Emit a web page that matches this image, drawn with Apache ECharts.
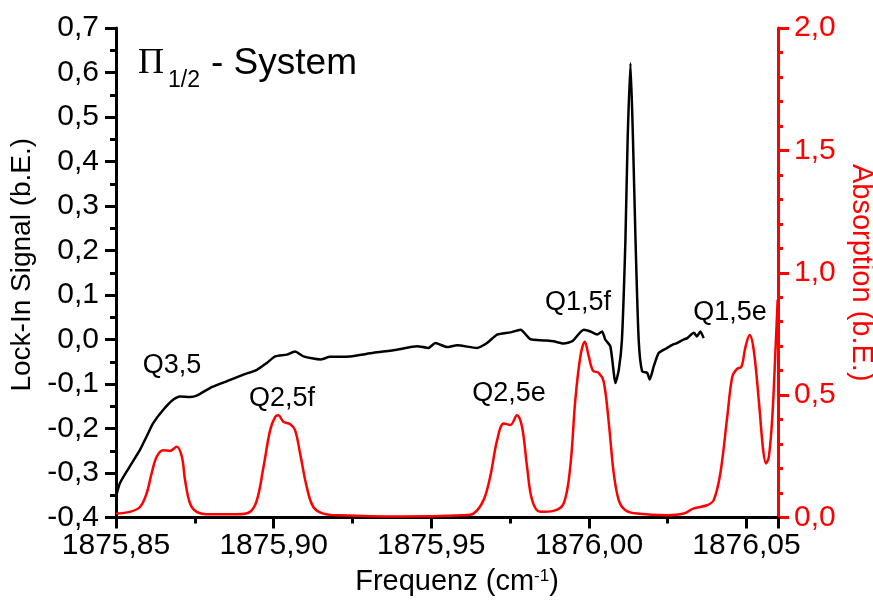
<!DOCTYPE html>
<html>
<head>
<meta charset="utf-8">
<script src="https://cdn.jsdelivr.net/npm/echarts@6/dist/echarts.min.js"></script>
<style>
html,body{margin:0;padding:0;background:#fff;}
#chart{width:873px;height:605px;}
</style>
</head>
<body>
<div id="chart"></div>
<script>
// ---- data ----
var lockInX = [1875.8500,1875.8513,1875.8544,1875.8576,1875.8597,1875.8618,1875.8650,1875.8682,1875.8703,1875.8735,
  1875.8756,1875.8798,1875.8851,1875.8904,1875.8947,1875.8978,1875.9005,1875.9042,1875.9068,1875.9095,
  1875.9148,1875.9179,1875.9211,1875.9243,1875.9317,1875.9391,1875.9455,1875.9491,1875.9513,1875.9550,
  1875.9582,1875.9645,1875.9677,1875.9709,1875.9751,1875.9783,1875.9814,1875.9857,1875.9888,1875.9920,
  1875.9947,1875.9984,1876.0005,1876.0026,1876.0042,1876.0052,1876.0068,1876.0079,1876.0084,1876.0095,
  1876.0105,1876.0116,1876.0123,1876.0132,1876.0140,1876.0148,1876.0158,1876.0169,1876.0185,1876.0193,
  1876.0206,1876.0222,1876.0248,1876.0265,1876.0280,1876.0301,1876.0312,1876.0333,1876.0343,1876.0354,1876.0364];
var lockInY = [-0.353,-0.322,-0.285,-0.248,-0.218,-0.188,-0.158,-0.135,-0.128,-0.129,
  -0.126,-0.109,-0.094,-0.079,-0.068,-0.053,-0.038,-0.034,-0.027,-0.038,
  -0.045,-0.039,-0.039,-0.038,-0.030,-0.023,-0.015,-0.019,-0.008,-0.017,
  -0.013,-0.019,-0.008,0.011,0.016,0.022,0.001,-0.002,-0.004,-0.009,
  -0.004,0.022,0.018,0.011,0.018,0.000,-0.015,-0.075,-0.098,-0.068,
  0.000,0.224,0.449,0.621,0.449,0.224,0.000,-0.072,-0.075,-0.090,
  -0.060,-0.030,-0.019,-0.012,-0.008,0.000,0.003,0.015,0.007,0.018,0.003];

var absX = [1875.8500,1875.8544,1875.8576,1875.8597,1875.8613,1875.8629,1875.8650,1875.8671,1875.8693,1875.8709,
  1875.8719,1875.8735,1875.8756,1875.8798,1875.8883,1875.8925,1875.8947,1875.8968,1875.8989,1875.9005,
  1875.9015,1875.9031,1875.9052,1875.9068,1875.9084,1875.9105,1875.9126,1875.9158,1875.9211,1875.9400,
  1875.9603,1875.9634,1875.9666,1875.9687,1875.9709,1875.9730,1875.9751,1875.9772,1875.9788,1875.9804,
  1875.9820,1875.9846,1875.9888,1875.9920,1875.9941,1875.9957,1875.9973,1875.9987,1876.0000,1876.0013,
  1876.0031,1876.0047,1876.0063,1876.0079,1876.0095,1876.0116,1876.0153,1876.0248,1876.0301,1876.0333,
  1876.0375,1876.0396,1876.0417,1876.0439,1876.0455,1876.0470,1876.0484,1876.0497,1876.0510,1876.0523,
  1876.0539,1876.0553,1876.0562,1876.0571,1876.0582,1876.0592,1876.0599];
var absY = [0.016,0.023,0.043,0.098,0.180,0.248,0.275,0.272,0.289,0.248,
  0.153,0.057,0.023,0.013,0.013,0.023,0.071,0.207,0.357,0.411,
  0.418,0.391,0.382,0.357,0.262,0.125,0.043,0.016,0.009,0.004,
  0.009,0.016,0.071,0.166,0.316,0.384,0.378,0.418,0.371,0.207,
  0.071,0.023,0.027,0.057,0.207,0.480,0.657,0.718,0.657,0.600,
  0.591,0.556,0.390,0.180,0.070,0.030,0.016,0.009,0.016,0.037,
  0.050,0.071,0.180,0.411,0.575,0.607,0.616,0.698,0.746,0.684,
  0.480,0.275,0.221,0.248,0.411,0.684,0.890];

var lineLabels = ['Q3,5','Q2,5f','Q2,5e','Q1,5f','Q1,5e'];
var xAxisName = 'Frequenz (cm';
var yLeftName = 'Lock-In Signal (b.E.)';
var yRightName = 'Absorption (b.E.)';

// ---- build ----
function pairs(xs, ys){ var out=[]; for(var i=0;i<xs.length;i++){ out.push([xs[i], ys[i]]); } return out; }
function comma(d){ return function(v){ var s=(Math.round(v*1e6)/1e6).toFixed(d).replace('.',','); if(s==='-0,0'||s==='-0,00') s=s.slice(1); return s; }; }

var FONT = 'Liberation Sans, Arial, Helvetica, sans-serif';
var chart = echarts.init(document.getElementById('chart'), null, {renderer:'canvas'});

var labelPos = [[172,366],[282,399],[509,394],[578,303],[730,313]];
var graphics = [];
lineLabels.forEach(function(t,i){
  graphics.push({type:'text', x:labelPos[i][0], y:labelPos[i][1], silent:true,
    style:{text:t, fontSize:27, fontFamily:FONT, fill:'#000', align:'center', verticalAlign:'middle', textAlign:'center', textVerticalAlign:'middle'}});
});
graphics.push({type:'text', x:138, y:64, silent:true,
  style:{text:'\u03A0', fontSize:36, fontFamily:'Liberation Serif, Times New Roman, serif', fill:'#000', align:'left', verticalAlign:'middle', textAlign:'left', textVerticalAlign:'middle'}});
graphics.push({type:'text', x:168, y:81, silent:true,
  style:{text:'1/2', fontSize:23, fontFamily:FONT, fill:'#000', align:'left', verticalAlign:'middle', textAlign:'left', textVerticalAlign:'middle'}});
graphics.push({type:'text', x:211, y:64, silent:true,
  style:{text:'- System', fontSize:37, fontFamily:FONT, fill:'#000', align:'left', verticalAlign:'middle', textAlign:'left', textVerticalAlign:'middle'}});

var option = {
  backgroundColor:'#fff',
  animation:false,
  grid:{left:116, right:95, top:28, bottom:87.5, containLabel:false, outerBoundsMode:'none'},
  xAxis:{
    type:'value', min:1875.85, max:1876.06, interval:0.05,
    name:'{a|' + xAxisName + '}{s|-1}{a|)}', nameLocation:'middle', nameGap:50,
    nameTextStyle:{padding:[0,0,0,20], rich:{a:{fontSize:29, fontFamily:FONT, color:'#000'}, s:{fontSize:17, fontFamily:FONT, color:'#000', verticalAlign:'top'}}},
    axisLine:{show:true, onZero:false, lineStyle:{color:'#000', width:3}},
    axisTick:{show:true, length:11, lineStyle:{color:'#000', width:3}},
    minorTick:{show:true, splitNumber:2, length:6, lineStyle:{color:'#000', width:3}},
    splitLine:{show:false},
    axisLabel:{fontSize:30, fontFamily:FONT, color:'#000', margin:13, formatter:comma(2), showMinLabel:true, showMaxLabel:false}
  },
  yAxis:[{
    type:'value', min:-0.4, max:0.7, interval:0.1, position:'left',
    name:yLeftName, nameLocation:'middle', nameGap:80, nameRotate:90,
    nameTextStyle:{fontSize:28, fontFamily:FONT, color:'#000', padding:[0,0,0,16]},
    axisLine:{show:true, onZero:false, lineStyle:{color:'#000', width:3}},
    axisTick:{show:true, length:11, lineStyle:{color:'#000', width:3}},
    minorTick:{show:true, splitNumber:2, length:6, lineStyle:{color:'#000', width:3}},
    splitLine:{show:false},
    axisLabel:{fontSize:30, fontFamily:FONT, color:'#000', margin:17, formatter:comma(1)}
  },{
    type:'value', min:0, max:2.0, interval:0.5, position:'right',
    name:yRightName, nameLocation:'middle', nameGap:62, nameRotate:-90,
    nameTextStyle:{fontSize:29, fontFamily:FONT, color:'#ff0000'},
    axisLine:{show:true, onZero:false, lineStyle:{color:'#ff0000', width:3}},
    axisTick:{show:true, length:11, lineStyle:{color:'#ff0000', width:3}},
    minorTick:{show:true, splitNumber:5, length:5, lineStyle:{color:'#ff0000', width:3}},
    splitLine:{show:false},
    axisLabel:{fontSize:30, fontFamily:FONT, color:'#ff0000', margin:16, formatter:comma(1)}
  }],
  series:[{
    type:'line', name:'Absorption', yAxisIndex:1, data:pairs(absX, absY),
    showSymbol:false, smooth:0.35, clip:true,
    lineStyle:{color:'#ff0000', width:2.5}, z:3
  },{
    type:'line', name:'Lock-In', yAxisIndex:0, data:pairs(lockInX, lockInY),
    showSymbol:false, smooth:0.2, clip:true,
    lineStyle:{color:'#000', width:2.5}, z:4
  }],
  graphic:graphics
};
chart.setOption(option);
</script>
</body>
</html>
